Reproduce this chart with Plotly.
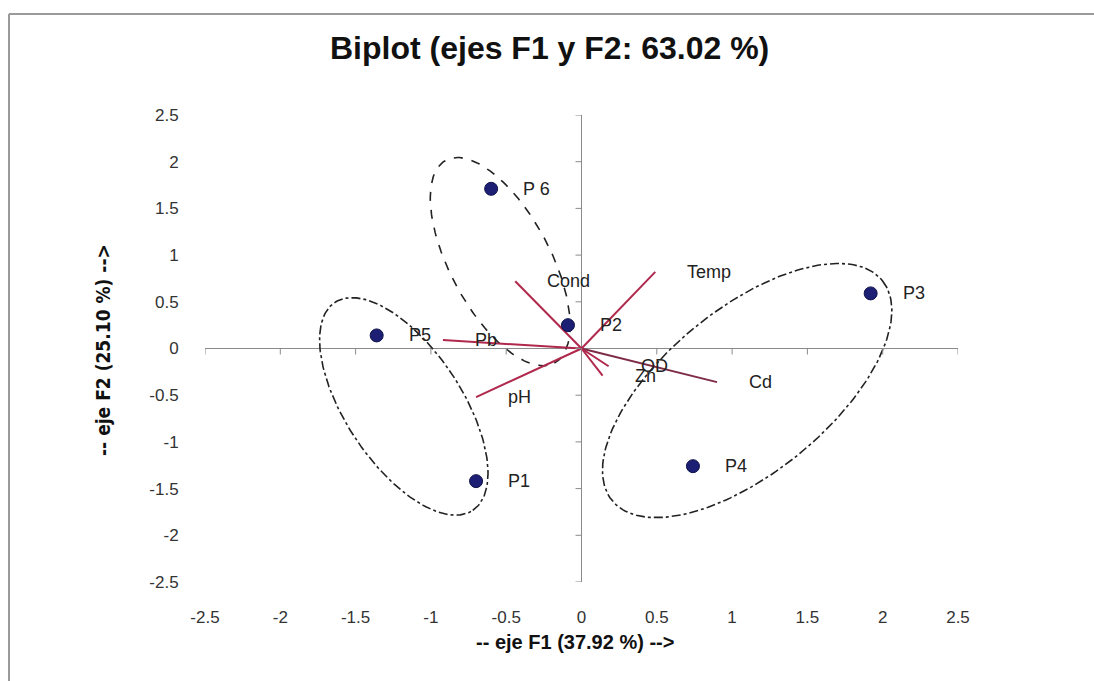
import numpy as np
import plotly.graph_objects as go

# ---------------- data ----------------
obs_names = ["P1", "P2", "P3", "P4", "P5", "P 6"]
obs_f1 = [-0.70, -0.09, 1.92, 0.74, -1.36, -0.60]
obs_f2 = [-1.42, 0.25, 0.59, -1.26, 0.14, 1.71]

var_names = ["Temp", "Cond", "Pb", "pH", "Cd", "OD", "Zn"]
var_f1 = [0.49, -0.44, -0.92, -0.70, 0.90, 0.18, 0.14]
var_f2 = [0.82, 0.72, 0.09, -0.52, -0.36, -0.19, -0.29]

tick_vals = [-2.5, -2, -1.5, -1, -0.5, 0, 0.5, 1, 1.5, 2, 2.5]
tick_text = ["-2.5", "-2", "-1.5", "-1", "-0.5", "0", "0.5", "1", "1.5", "2", "2.5"]

# group ellipses (center, half-axis vectors in F1/F2 units)
group_cx = [-0.54, -1.18, 1.10]
group_cy = [0.93, -0.62, -0.45]
group_major = [(0.360, -1.086), (0.458, -1.113), (0.897, 1.178)]
group_minor = [(0.293, 0.253), (0.321, 0.343), (0.344, -0.681)]
group_dash = ["dash", "dashdot", "dashdot"]

title_text = "Biplot (ejes F1 y F2: 63.02 %)"
x_title = "-- eje F1 (37.92 %) -->"
y_title = "-- eje F2 (25.10 %) -->"

# ---------------- figure ----------------
W, H = 1094, 681
L, R, T, B = 205, 136, 115, 99
pw, ph = W - L - R, H - T - B


def px(xp):
    return (xp - L) / pw


def py(yp):
    return (H - B - yp) / ph


fig = go.Figure()

t = np.linspace(0, 2 * np.pi, 200)
for cx, cy, M, m, d in zip(group_cx, group_cy, group_major, group_minor, group_dash):
    ex = cx + np.cos(t) * M[0] + np.sin(t) * m[0]
    ey = cy + np.cos(t) * M[1] + np.sin(t) * m[1]
    fig.add_trace(go.Scatter(x=ex, y=ey, mode="lines",
                             line=dict(color="#222222", width=1.6, dash=d),
                             hoverinfo="skip", showlegend=False))

vec_color = ["#b0284c", "#b0284c", "#b0284c", "#b0284c", "#7e2c46", "#b0284c", "#b0284c"]
for name, vx, vy, c in zip(var_names, var_f1, var_f2, vec_color):
    fig.add_trace(go.Scatter(x=[0, vx], y=[0, vy], mode="lines",
                             line=dict(color=c, width=2),
                             name=name, showlegend=False))

fig.add_trace(go.Scatter(x=obs_f1, y=obs_f2, mode="markers",
                         marker=dict(color="#1c1f73", size=13,
                                     line=dict(color="#10124a", width=1)),
                         text=obs_names, showlegend=False))

lab_font = dict(family="Liberation Sans, Arial, sans-serif", size=18, color="#222222")
annotations = []
for name, x, y in zip(obs_names, obs_f1, obs_f2):
    annotations.append(dict(x=x, y=y, xref="x", yref="y", text=name, showarrow=False,
                            xanchor="left", yanchor="middle", xshift=30, font=lab_font))
for name, x, y in zip(var_names, var_f1, var_f2):
    annotations.append(dict(x=x, y=y, xref="x", yref="y", text=name, showarrow=False,
                            xanchor="left", yanchor="middle", xshift=30, font=lab_font))

annotations.append(dict(x=px(549), y=py(48), xref="paper", yref="paper", text=title_text,
                        showarrow=False, xanchor="center", yanchor="middle",
                        font=dict(family="Liberation Sans, Arial, sans-serif", size=32,
                                  color="#111111", weight="bold")))
annotations.append(dict(x=px(575), y=py(642), xref="paper", yref="paper", text=x_title,
                        showarrow=False, xanchor="center", yanchor="middle",
                        font=dict(family="Liberation Sans, Arial, sans-serif", size=20,
                                  color="#111111", weight="bold")))
annotations.append(dict(x=px(103), y=py(350), xref="paper", yref="paper", text=y_title,
                        showarrow=False, xanchor="center", yanchor="middle", textangle=-90,
                        font=dict(family="Liberation Sans Narrow, Arial Narrow, DejaVu Sans Condensed, sans-serif",
                                  size=19, color="#111111", weight="bold")))

shapes = []
for v in tick_vals:
    shapes.append(dict(type="line", xref="x", yref="y", x0=v, x1=v,
                       ysizemode="pixel", yanchor=0, y0=0, y1=-6,
                       line=dict(color="#8a8a8a", width=1)))
    shapes.append(dict(type="line", xref="x", yref="y", y0=v, y1=v,
                       xsizemode="pixel", xanchor=0, x0=-6, x1=0,
                       line=dict(color="#8a8a8a", width=1)))
# outer frame (top and left edges)
shapes.append(dict(type="line", xref="paper", yref="paper", x0=px(9), x1=px(W), y0=py(14), y1=py(14),
                   line=dict(color="#9a9a9a", width=2)))
shapes.append(dict(type="line", xref="paper", yref="paper", x0=px(9), x1=px(9), y0=py(14), y1=py(H),
                   line=dict(color="#9a9a9a", width=2)))

tick_font = dict(family="Liberation Sans, Arial, sans-serif", size=17, color="#333333")
fig.update_layout(
    width=W, height=H,
    margin=dict(l=L, r=R, t=T, b=B, pad=0),
    paper_bgcolor="white", plot_bgcolor="white",
    showlegend=False,
    annotations=annotations,
    shapes=shapes,
    xaxis=dict(range=[-2.5, 2.5], tickvals=tick_vals, ticktext=tick_text,
               showgrid=False, showline=False, zeroline=True, zerolinecolor="#8a8a8a",
               zerolinewidth=1, ticks="outside", ticklen=20, tickcolor="rgba(0,0,0,0)",
               tickfont=tick_font, fixedrange=True),
    yaxis=dict(range=[-2.5, 2.5], tickvals=tick_vals, ticktext=tick_text,
               showgrid=False, showline=False, zeroline=True, zerolinecolor="#8a8a8a",
               zerolinewidth=1, ticks="outside", ticklen=22, tickcolor="rgba(0,0,0,0)",
               tickfont=tick_font, fixedrange=True),
)

fig.write_html("out.html")
